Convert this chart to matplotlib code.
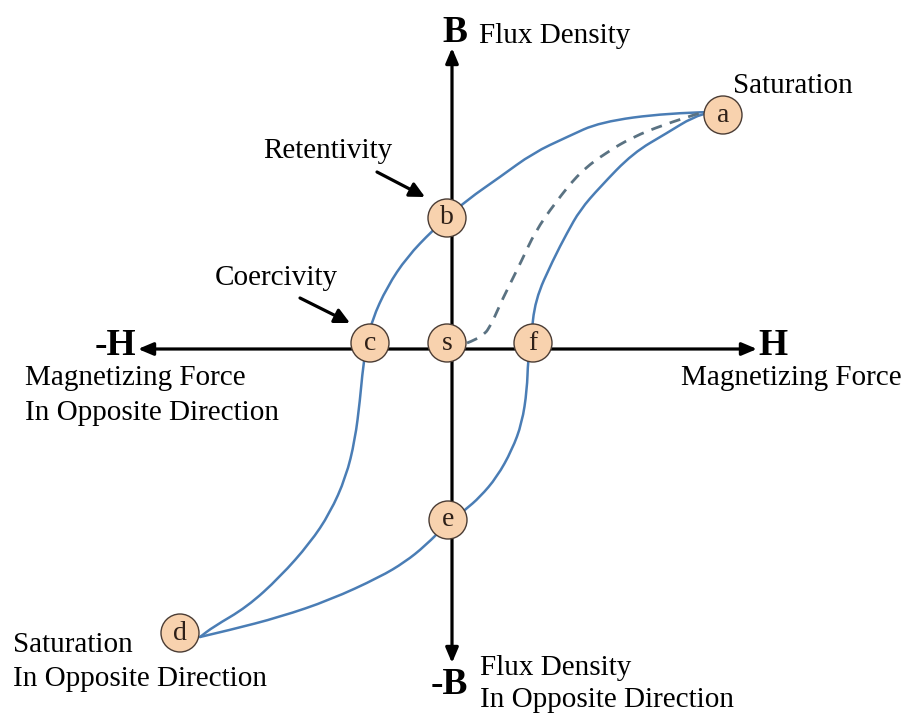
import matplotlib.pyplot as plt
from matplotlib.patches import Circle, PathPatch
from matplotlib.path import Path

plt.rcParams['font.family'] = ['Liberation Serif', 'DejaVu Serif']

# Hysteresis loop (H across, B up, origin at point s)
upper_H = [260, 215, 148, 115, 81, 48, 15, -5, -19, -45, -65, -80, -85, -89,
           -92, -97, -106, -122, -142, -172, -205, -239, -252]
upper_B = [237, 236, 227, 212, 196, 172, 149, 131, 119, 92, 62, 29, 6, -18,
           -51, -91, -128, -164, -194, -228, -258, -278, -288]

lower_H = [-252, -222, -172, -122, -72, -47, -27, -4, 13, 28, 45, 60, 70, 75,
           76, 79, 83, 101, 115, 128, 148, 181, 215, 241, 260]
lower_B = [-288, -281, -268, -251, -228, -213, -197, -174, -161, -148, -128,
           -101, -74, -41, -11, 9, 49, 89, 116, 139, 162, 196, 216, 232, 237]

# initial magnetisation curve (dashed), from s up to a
initial_H = [15, 31, 40, 50, 70, 83, 103, 128, 155, 181, 211, 248]
initial_B = [6, 12, 26, 49, 89, 117, 146, 177, 197, 212, 224, 236]

point_labels = ['a', 'b', 'c', 's', 'f', 'e', 'd']
point_H = [271, -5, -82, -5, 81, -4, -272]
point_B = [234, 131, 6, 6, 6, -171, -284]


def smooth_path(xs, ys):
    # quadratic bezier pieces: each read point is a control point, joined at midpoints
    pts = list(zip(xs, ys))
    verts = [pts[0]]
    codes = [Path.MOVETO]
    for i in range(1, len(pts) - 1):
        mid = ((pts[i][0] + pts[i + 1][0]) / 2, (pts[i][1] + pts[i + 1][1]) / 2)
        verts += [pts[i], mid]
        codes += [Path.CURVE3, Path.CURVE3]
    verts.append(pts[-1])
    codes.append(Path.LINETO)
    return Path(verts, codes)


fig = plt.figure(figsize=(9.07, 7.17), dpi=100)
ax = fig.add_axes([0, 0, 1, 1])
ax.set_xlim(-452, 455)
ax.set_ylim(-368, 349)
ax.set_aspect('equal')
ax.axis('off')

loop_color = '#4A7DB5'
for hs, bs in [(upper_H, upper_B), (lower_H, lower_B)]:
    ax.add_patch(PathPatch(smooth_path(hs, bs), fill=False, edgecolor=loop_color,
                           lw=1.8, capstyle='round', zorder=2))
ax.add_patch(PathPatch(smooth_path(initial_H, initial_B), fill=False,
                       edgecolor='#5A7282', lw=2.0, linestyle=(0, (4, 3)), zorder=2))

# axes with arrow heads
arrow = dict(arrowstyle='<|-|>,head_length=0.9,head_width=0.38', mutation_scale=10,
             color='black', lw=2.3, shrinkA=0, shrinkB=0)
ax.annotate('', xy=(305, 0), xytext=(-314, 0), arrowprops=arrow, zorder=1)
ax.annotate('', xy=(0, 301), xytext=(0, -314), arrowprops=arrow, zorder=1)

pointer = dict(arrowstyle='-|>,head_length=0.9,head_width=0.45', mutation_scale=10,
               color='black', lw=2.3, shrinkA=0, shrinkB=0)
ax.annotate('', xy=(-27, 152), xytext=(-75, 177), arrowprops=pointer)
ax.annotate('', xy=(-102, 26), xytext=(-152, 51), arrowprops=pointer)

for lab, h, b in zip(point_labels, point_H, point_B):
    ax.add_patch(Circle((h, b), 19, facecolor='#F8D2AE', edgecolor='#4A3C34',
                        lw=1.0, zorder=4))
    ax.text(h, b, lab, ha='center', va='center', fontsize=20, color='#2E2018', zorder=5)

fs = 21
bold = dict(fontsize=27, fontweight='bold', ha='center', va='baseline')
ax.text(3, 307, 'B', **bold)
ax.text(321, -6, 'H', **bold)
ax.text(-337, -6, '-H', **bold)
ax.text(-3, -345, '-B', **bold)

ax.text(27, 306, 'Flux Density', fontsize=fs, va='baseline')
ax.text(281, 256, 'Saturation', fontsize=fs, va='baseline')
ax.text(-189, 191, 'Retentivity', fontsize=fs, va='baseline')
ax.text(-237, 64, 'Coercivity', fontsize=fs, va='baseline')
ax.text(-427, -36, 'Magnetizing Force', fontsize=fs, va='baseline')
ax.text(-427, -71, 'In Opposite Direction', fontsize=fs, va='baseline')
ax.text(229, -36, 'Magnetizing Force', fontsize=fs, va='baseline')
ax.text(28, -326, 'Flux Density', fontsize=fs, va='baseline')
ax.text(28, -358, 'In Opposite Direction', fontsize=fs, va='baseline')
ax.text(-439, -303, 'Saturation', fontsize=fs, va='baseline')
ax.text(-439, -337, 'In Opposite Direction', fontsize=fs, va='baseline')

fig.savefig('out.png', dpi=100, facecolor='white')
